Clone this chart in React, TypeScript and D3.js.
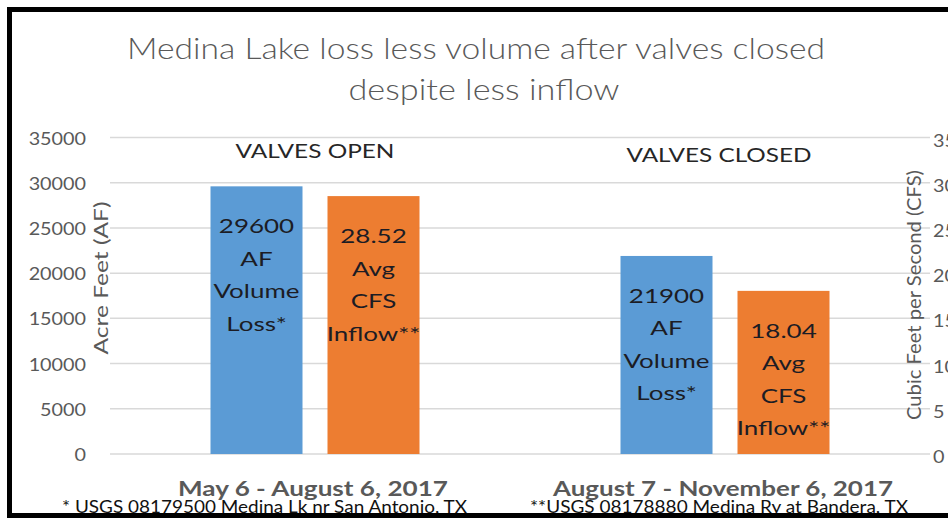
import * as d3 from "d3";

// chart data
const periods = ["May 6 - August 6, 2017", "August 7 - November 6, 2017"];
const valveStates = ["VALVES OPEN", "VALVES CLOSED"];
const volumeLossAF = [29600, 21900];
const avgInflowCFS = [28.52, 18.04];
const leftTicks = [0, 5000, 10000, 15000, 20000, 25000, 30000, 35000];
const rightTicks = [0, 5, 10, 15, 20, 25, 30, 35];
const footnotes = [
  "* USGS 08179500 Medina Lk nr San Antonio, TX",
  "**USGS 08178880 Medina Ry at Bandera, TX",
];
const titleLines = ["Medina Lake loss less volume after valves closed", "despite less inflow"];

const W = 948;
const H = 518;
const FONT = "Lato, 'Open Sans', sans-serif";
const GREY = "#595959";
const BLUE = "#5b9bd5";
const ORANGE = "#ed7d31";

type STextProps = {
  x: number;
  y: number;
  sx?: number;
  size: number;
  anchor?: "start" | "middle" | "end";
  fill?: string;
  weight?: number | string;
  baseline?: string;
  children: React.ReactNode;
};

// the source image is stretched sideways, so text gets a small x scale
function SText({ x, y, sx = 1.25, size, anchor = "middle", fill = "#222", weight = 400, baseline, children }: STextProps) {
  return (
    <text
      transform={`translate(${x},${y}) scale(${sx},1)`}
      textAnchor={anchor}
      fontSize={size}
      fill={fill}
      fontWeight={weight}
      dominantBaseline={baseline}
    >
      {children}
    </text>
  );
}

export default function App() {
  const x0 = d3.scaleBand<string>().domain(periods).range([110, 930]);
  const x1 = d3.scaleBand<string>().domain(["vol", "inflow"]).range([100.5, 309.5]).paddingInner(0.2137);
  const y = d3.scaleLinear().domain([0, 35000]).range([454, 137.5]);
  const yR = d3.scaleLinear().domain([0, 35]).range([454, 137.5]);

  const lineStep = 32.5;
  const labelTop = 47;

  return (
    <svg
      width={W}
      height={H}
      style={{ position: "absolute", left: 0, top: 0, display: "block", background: "#fff" }}
      fontFamily={FONT}
    >
      <rect x={0} y={0} width={W} height={H} fill="#fff" />

      {/* title */}
      {titleLines.map((t, i) => (
        <text
          key={t}
          x={i === 0 ? 476 : 484}
          y={i === 0 ? 59 : 100}
          textAnchor="middle"
          fontSize={29}
          fontWeight={300}
          fill={GREY}
          textLength={i === 0 ? 698 : 271}
          lengthAdjust="spacingAndGlyphs"
        >
          {t}
        </text>
      ))}

      {/* gridlines */}
      {leftTicks.map((t) => (
        <line key={t} x1={110} x2={930} y1={y(t)} y2={y(t)} stroke="#d9d9d9" strokeWidth={1.5} />
      ))}

      {/* left ticks */}
      {leftTicks.map((t) => (
        <SText key={t} x={86} y={y(t)} sx={1.1} size={18} anchor="end" fill={GREY} baseline="central">
          {t}
        </SText>
      ))}

      {/* right ticks, cut off by the picture edge as in the source */}
      {rightTicks.map((t) => (
        <SText key={t} x={933} y={yR(t) + 2} sx={1.1} size={18} anchor="start" fill={GREY} baseline="central">
          {t}
        </SText>
      ))}

      {/* axis titles */}
      <text
        transform="translate(108,278) rotate(-90)"
        textAnchor="middle"
        fontSize={19}
        fill={GREY}
        textLength={153}
        lengthAdjust="spacingAndGlyphs"
      >
        Acre Feet (AF)
      </text>
      <text
        transform="translate(921,295) rotate(-90)"
        textAnchor="middle"
        fontSize={19}
        fill={GREY}
        textLength={250}
        lengthAdjust="spacingAndGlyphs"
      >
        Cubic Feet per Second (CFS)
      </text>

      {/* bars */}
      {periods.map((p, i) => {
        const gx = x0(p) ?? 0;
        const bx = gx + (x1("vol") ?? 0);
        const ox = gx + (x1("inflow") ?? 0);
        const bw = x1.bandwidth();
        const volLines = [String(volumeLossAF[i]), "AF", "Volume", "Loss*"];
        const inLines = [avgInflowCFS[i].toFixed(2), "Avg", "CFS", "Inflow**"];
        return (
          <g key={p}>
            <rect x={bx} y={y(volumeLossAF[i])} width={bw} height={y(0) - y(volumeLossAF[i])} fill={BLUE} />
            <rect x={ox} y={yR(avgInflowCFS[i])} width={bw} height={yR(0) - yR(avgInflowCFS[i])} fill={ORANGE} />
            {volLines.map((l, k) => (
              <SText key={"v" + k} x={bx + bw / 2} y={y(volumeLossAF[i]) + labelTop + k * lineStep} sx={1.3} size={20} fill="#1c1c24">
                {l}
              </SText>
            ))}
            {inLines.map((l, k) => (
              <SText key={"o" + k} x={ox + bw / 2} y={yR(avgInflowCFS[i]) + labelTop + k * lineStep} sx={1.3} size={20} fill="#1c1c24">
                {l}
              </SText>
            ))}
          </g>
        );
      })}

      {/* valve state labels */}
      {periods.map((p, i) => (
        <text
          key={valveStates[i]}
          x={(x0(p) ?? 0) + x0.bandwidth() / 2 - (i === 0 ? 0 : 6)}
          y={i === 0 ? 158 : 162}
          textAnchor="middle"
          fontSize={20}
          fill="#262626"
          textLength={i === 0 ? 159 : 185}
          lengthAdjust="spacingAndGlyphs"
        >
          {valveStates[i]}
        </text>
      ))}

      {/* category labels */}
      {periods.map((p, i) => (
        <text
          key={p}
          x={(x0(p) ?? 0) + x0.bandwidth() / 2 - 2}
          y={496}
          textAnchor="middle"
          fontSize={20}
          fontWeight={700}
          fill={GREY}
          textLength={i === 0 ? 270 : 340}
          lengthAdjust="spacingAndGlyphs"
        >
          {p}
        </text>
      ))}

      {/* footnotes */}
      {footnotes.map((f, i) => (
        <text
          key={f}
          x={i === 0 ? 62 : 530}
          y={513}
          fontSize={17}
          fill="#111"
          textLength={i === 0 ? 405 : 378}
          lengthAdjust="spacingAndGlyphs"
        >
          {f}
        </text>
      ))}

      {/* black frame of the cropped screenshot */}
      <rect x={7} y={7} width={W - 7} height={5} fill="#000" />
      <rect x={7} y={7} width={5} height={H - 7} fill="#000" />
      <rect x={7} y={513} width={W - 7} height={5} fill="#000" />
    </svg>
  );
}
